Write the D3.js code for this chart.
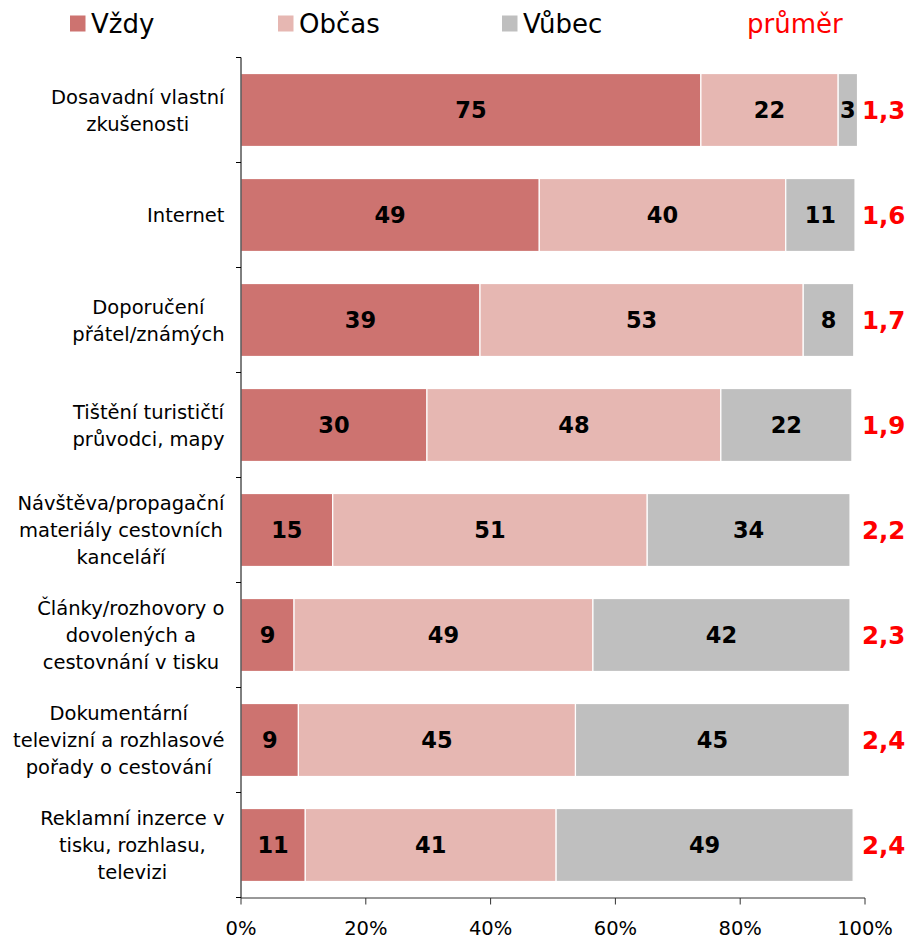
<!DOCTYPE html>
<html>
<head>
<meta charset="utf-8">
<script src="https://cdn.jsdelivr.net/npm/d3@7"></script>
<style>
  html, body { margin: 0; padding: 0; background: #fff; }
  svg { display: block; font-family: "DejaVu Sans", Verdana, sans-serif; }
</style>
</head>
<body>
<svg id="chart" width="910" height="940"></svg>
<script>
// ---- data ----
const categories = [
  ["Dosavadní vlastní", "zkušenosti"],
  ["Internet"],
  ["Doporučení", "přátel/známých"],
  ["Tištění turističtí", "průvodci, mapy"],
  ["Návštěva/propagační", "materiály cestovních", "kanceláří"],
  ["Články/rozhovory o", "dovolených a", "cestovnání v tisku"],
  ["Dokumentární", "televizní a rozhlasové", "pořady o cestování"],
  ["Reklamní inzerce v", "tisku, rozhlasu,", "televizi"]
];
const seriesNames = ["Vždy", "Občas", "Vůbec"];
// bar lengths (share of respondents, %)
const vzdy  = [73.7, 47.8, 38.3, 29.8, 14.7, 8.5, 9.2, 10.3];
const obcas = [22.0, 39.5, 51.8, 47.1, 50.4, 47.9, 44.4, 40.2];
const vubec = [3.1, 11.1, 8.1, 21.0, 32.5, 41.2, 43.9, 47.6];
// printed labels
const vzdyLabels  = ["75", "49", "39", "30", "15", "9", "9", "11"];
const obcasLabels = ["22", "40", "53", "48", "51", "49", "45", "41"];
const vubecLabels = ["3", "11", "8", "22", "34", "42", "45", "49"];
const averages = ["1,3", "1,6", "1,7", "1,9", "2,2", "2,3", "2,4", "2,4"];
const averageTitle = "průměr";
const xTicks = [0, 20, 40, 60, 80, 100];

const colors = ["#CD7370", "#E6B7B2", "#BFBFBF"];

// ---- layout ----
const svg = d3.select("#chart");
const pLeft = 241, pRight = 865, pTop = 57.5, pBottom = 897.5;

const x = d3.scaleLinear().domain([0, 100]).range([pLeft, pRight]);
const y = d3.scaleBand().domain(d3.range(categories.length))
  .range([pTop, pBottom]).paddingInner(0.305).paddingOuter(0.1525);

const values = [vzdy, obcas, vubec];
const labels = [vzdyLabels, obcasLabels, vubecLabels];

// bars
categories.forEach((c, i) => {
  let acc = 0;
  values.forEach((arr, s) => {
    const v = arr[i];
    const x0 = x(acc), x1 = x(acc + v);
    svg.append("rect")
      .attr("x", x0).attr("y", y(i))
      .attr("width", x1 - x0).attr("height", y.bandwidth())
      .attr("fill", colors[s])
      .attr("stroke", "#fff").attr("stroke-width", 1.2);
    svg.append("text")
      .attr("x", (x0 + x1) / 2)
      .attr("y", y(i) + y.bandwidth() / 2)
      .attr("dy", "0.36em")
      .attr("text-anchor", "middle")
      .attr("font-weight", "bold")
      .attr("font-size", 22.5)
      .attr("fill", "#000")
      .text(labels[s][i]);
    acc += v;
  });
  // average
  svg.append("text")
    .attr("x", 862)
    .attr("y", y(i) + y.bandwidth() / 2)
    .attr("dy", "0.36em")
    .attr("font-weight", "bold")
    .attr("font-size", 24.5)
    .attr("fill", "#FF0000")
    .text(averages[i]);
});

// category labels: block right-aligned, lines centered
const labelRight = 224.5, lineH = 27;
categories.forEach((lines, i) => {
  const cy = y(i) + y.bandwidth() / 2;
  const g = svg.append("g");
  const ts = lines.map((ln, k) => g.append("text")
    .attr("y", cy + (k - (lines.length - 1) / 2) * lineH)
    .attr("dy", "0.36em")
    .attr("text-anchor", "middle")
    .attr("font-size", 19.5)
    .attr("fill", "#000")
    .text(ln));
  const maxW = d3.max(ts, t => t.node().getComputedTextLength());
  ts.forEach(t => t.attr("x", labelRight - maxW / 2));
});

// axes
const axisColor = "#000";
svg.append("line").attr("x1", pLeft).attr("x2", pLeft).attr("y1", pTop).attr("y2", pBottom + 0.5)
  .attr("stroke", axisColor).attr("stroke-width", 1);
svg.append("line").attr("x1", pLeft).attr("x2", pRight).attr("y1", pBottom + 0.5).attr("y2", pBottom + 0.5)
  .attr("stroke", "#333").attr("stroke-width", 1);
// left ticks at band boundaries
d3.range(categories.length + 1).forEach(k => {
  const yy = pTop + k * y.step();
  svg.append("line").attr("x1", pLeft - 5).attr("x2", pLeft).attr("y1", yy).attr("y2", yy)
    .attr("stroke", axisColor).attr("stroke-width", 1);
});
// bottom ticks
xTicks.forEach(t => {
  svg.append("line").attr("x1", x(t)).attr("x2", x(t)).attr("y1", pBottom + 0.5).attr("y2", pBottom + 7)
    .attr("stroke", "#333").attr("stroke-width", 1);
  svg.append("text").attr("x", x(t)).attr("y", 935)
    .attr("text-anchor", "middle").attr("font-size", 19.5).attr("fill", "#000")
    .text(t + "%");
});

// legend
const legendX = [70, 278, 502];
const legendTextX = [91, 299, 523];
seriesNames.forEach((n, s) => {
  svg.append("rect").attr("x", legendX[s]).attr("y", 15.5).attr("width", 15.5).attr("height", 16)
    .attr("fill", colors[s]);
  svg.append("text").attr("x", legendTextX[s]).attr("y", 33)
    .attr("font-size", 26).attr("fill", "#000").text(n);
});
svg.append("text").attr("x", 747).attr("y", 33)
  .attr("font-size", 26).attr("fill", "#FF0000").text(averageTitle);
</script>
</body>
</html>
